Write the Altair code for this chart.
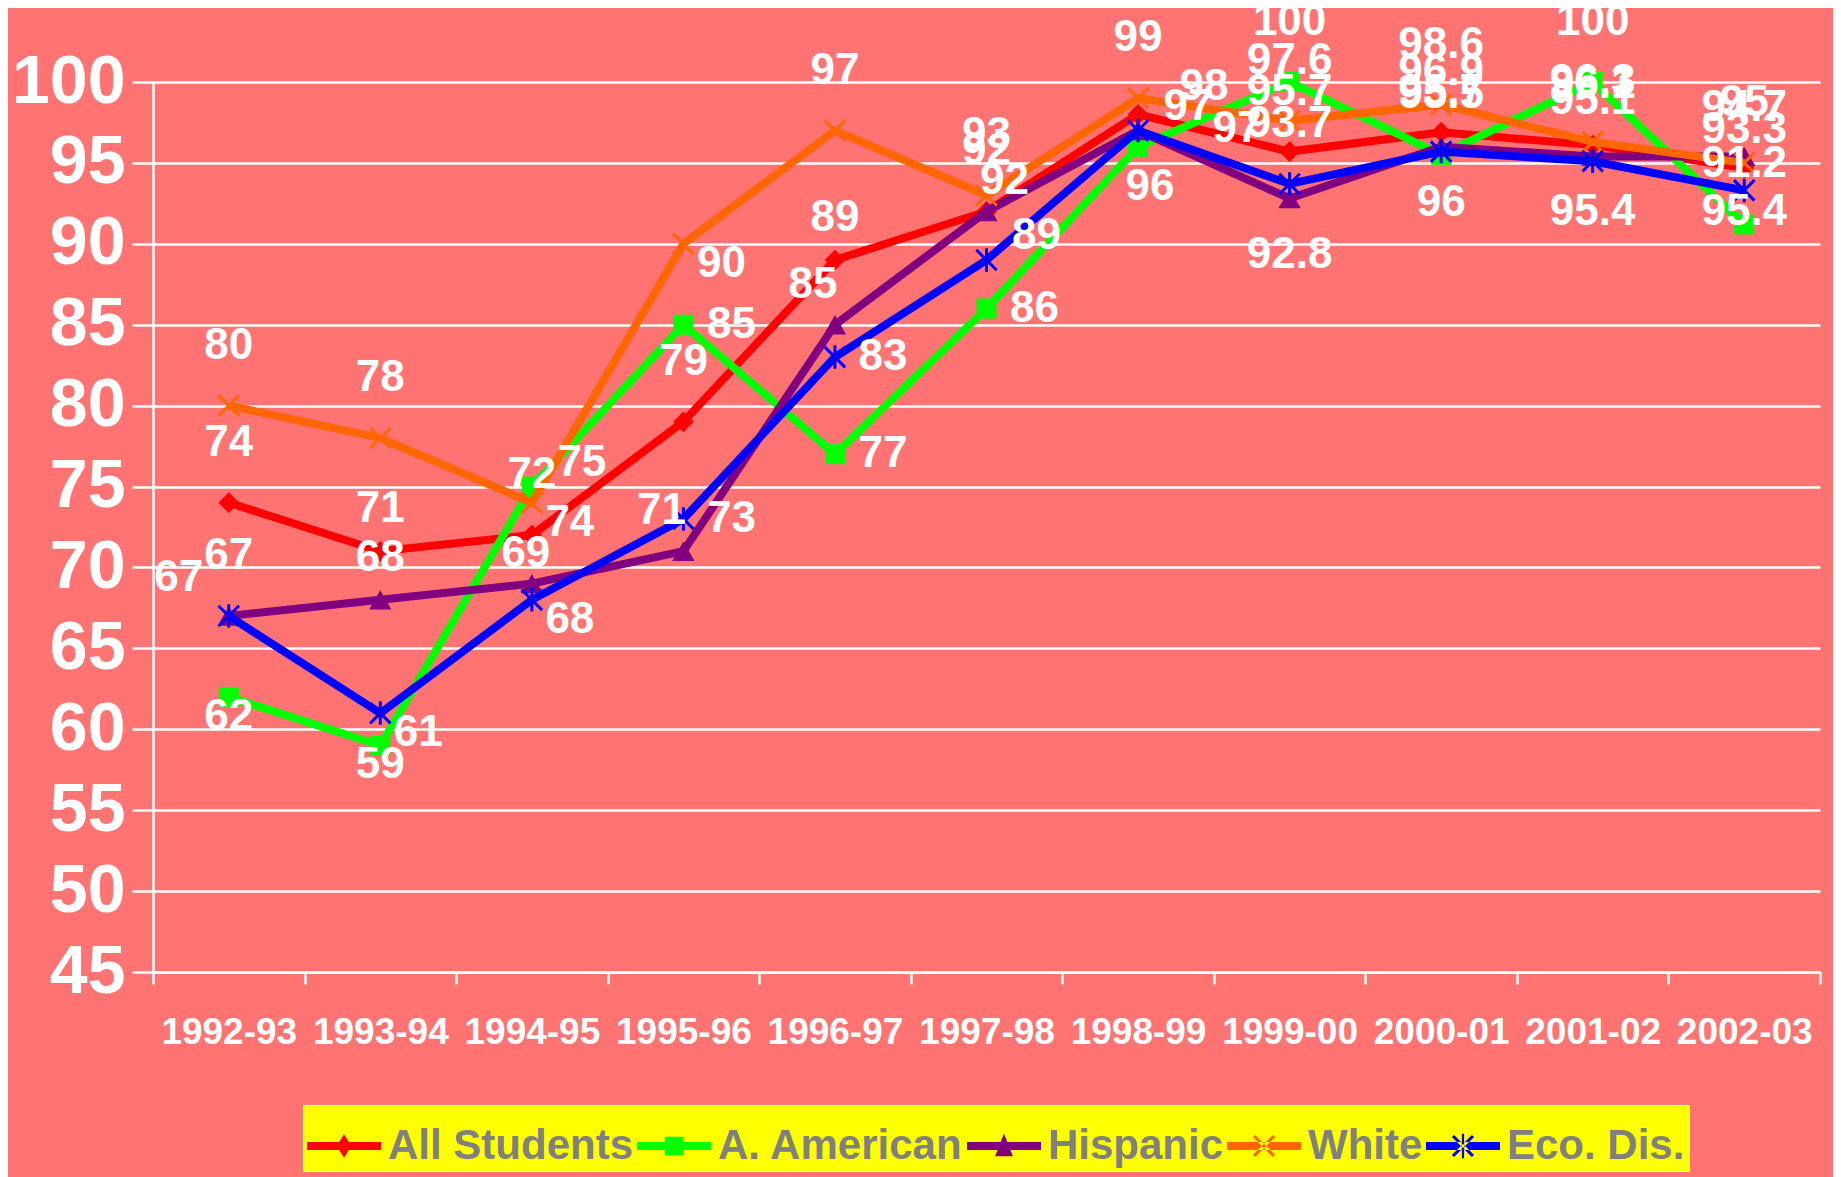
import altair as alt
import pandas as pd

# ---------------- data ----------------
categories = ["1992-93", "1993-94", "1994-95", "1995-96", "1996-97", "1997-98",
              "1998-99", "1999-00", "2000-01", "2001-02", "2002-03"]

series_names = ["All Students", "A. American", "Hispanic", "White", "Eco. Dis."]

all_students = [74, 71, 72, 79, 89, 92, 98, 95.7, 96.9, 96.1, 94.7]
a_american = [62, 59, 75, 85, 77, 86, 96, 100, 95.5, 100, 91.2]
hispanic = [67, 68, 69, 71, 85, 92, 97, 92.8, 96, 95.4, 95.4]
white = [80, 78, 74, 90, 97, 93, 99, 97.6, 98.6, 96.3, 95]
eco_dis = [67, 61, 68, 73, 83, 89, 97, 93.7, 95.7, 95.1, 93.3]

# data-label placement per point (Excel-like label positions)
all_students_lbl = ["a", "am", "a", "a", "am", "a", "ar2", "a", "a", "a", "a"]
a_american_lbl = ["b", "b", "ar", "r", "r", "r", "bm", "a", "a", "a", "a"]
hispanic_lbl = ["a", "am", "an", "al", "al", "au", "ar", "bb", "bb", "bb", "bb"]
white_lbl = ["a", "a", "br", "br", "a", "a", "a", "a", "a", "a", "a"]
eco_dis_lbl = ["l", "br", "br", "r", "r", "ar", "rr", "a", "a", "a", "a"]

series_values = [all_students, a_american, hispanic, white, eco_dis]
series_labels = [all_students_lbl, a_american_lbl, hispanic_lbl, white_lbl, eco_dis_lbl]

# ---------------- styles ----------------
colors = ["#FF0000", "#00FF00", "#800080", "#FF6600", "#0000FF"]
BG = "#FF7373"
FONT = "Liberation Sans"

X_PATH = "M-1,-1L1,1M-1,1L1,-1"
AST_PATH = "M-1,-1L1,1M-1,1L1,-1M0,-1.15L0,1.15"
marker_specs = [
    dict(shape="diamond", filled=True, size=430),
    dict(shape="square", filled=True, size=400),
    dict(shape="triangle-up", filled=True, size=500),
    dict(shape=X_PATH, filled=False, size=420, strokeWidth=3),
    dict(shape=AST_PATH, filled=False, size=420, strokeWidth=3),
]

BAR = "M-1,-0.11L1,-0.11L1,0.11L-1,0.11Z"
legend_paths = [
    BAR + "M0,-0.32L0.2,0L0,0.32L-0.2,0Z",
    BAR + "M-0.25,-0.25L0.25,-0.25L0.25,0.25L-0.25,0.25Z",
    BAR + "M0,-0.34L0.24,0.28L-0.24,0.28Z",
    BAR + "M-0.3,-0.24L0.24,0.3L0.3,0.24L-0.24,-0.3Z"
          "M-0.3,0.24L-0.24,0.3L0.3,-0.24L0.24,-0.3Z",
    BAR + "M-0.3,-0.24L0.24,0.3L0.3,0.24L-0.24,-0.3Z"
          "M-0.3,0.24L-0.24,0.3L0.3,-0.24L0.24,-0.3Z"
          "M-0.03,-0.33L0.03,-0.33L0.03,0.33L-0.03,0.33Z",
]

placements = {
    "a": (0, -60), "am": (0, -42), "an": (-6, -30), "au": (18, -30),
    "al": (-22, -40), "l": (-50, -38), "ar": (50, -24), "ar2": (66, -27),
    "r": (48, 0), "rr": (99, -2), "br": (38, 20), "b": (0, 20),
    "bm": (12, 40), "bb": (0, 56),
}

# ---------------- table ----------------
rows = []
for name, vals, lbls in zip(series_names, series_values, series_labels):
    for cat, v, p in zip(categories, vals, lbls):
        rows.append({"series": name, "year": cat, "value": v,
                     "label": f"{v:g}", "pos": p})
df = pd.DataFrame(rows)

W, H = 1667, 890

x_enc = alt.X(
    "year:N", sort=categories, bandPosition=0.5,
    scale=alt.Scale(type="band", paddingInner=0, paddingOuter=0),
    axis=alt.Axis(title=None, labelAngle=0, tickBand="extent", grid=False,
                  labelFont=FONT, labelFontSize=37, labelFontWeight="bold",
                  labelColor="white", labelPadding=30, tickSize=12,
                  tickColor="white", tickWidth=2.5, domainColor="white",
                  domainWidth=2.5),
)
y_enc = alt.Y(
    "value:Q",
    scale=alt.Scale(domain=[45, 100], nice=False, zero=False),
    axis=alt.Axis(title=None, values=list(range(45, 101, 5)), grid=True,
                  gridColor="white", gridWidth=2.5, labelFont=FONT,
                  labelFontSize=68, labelFontWeight="bold", labelColor="white",
                  labelPadding=7, tickSize=21, tickColor="white", tickWidth=2.5,
                  domainColor="white", domainWidth=2.5),
)

base = alt.Chart(df)
layers = []
for name, c, ms in zip(series_names, colors, marker_specs):
    sub = base.transform_filter(alt.datum.series == name)
    layers.append(sub.mark_line(color=c, strokeWidth=8).encode(x=x_enc, y=y_enc))
    layers.append(sub.mark_point(color=c, opacity=1, **ms).encode(x=x_enc, y=y_enc))

for code, (dx, dy) in placements.items():
    layers.append(
        base.transform_filter(alt.datum.pos == code)
        .mark_text(dx=dx, dy=dy, align="center", baseline="middle", font=FONT,
                   fontSize=44, fontWeight="bold", color="white")
        .encode(x=x_enc, y=y_enc, text="label:N")
    )

leg = alt.Legend(
    title=None, orient="none", legendX=150, legendY=1023, direction="horizontal",
    columns=5, fillColor="#FFFF00", strokeColor="white", padding=4,
    labelFont=FONT, labelFontSize=42, labelFontWeight="bold", labelColor="#808080",
    labelLimit=500, labelOffset=7, columnPadding=3, symbolSize=5476,
    symbolStrokeWidth=0, symbolOpacity=1,
)
legend_layer = base.transform_filter("datum.value < 0").mark_point(
    filled=True, opacity=1
).encode(
    x=x_enc, y=y_enc,
    color=alt.Color("series:N", scale=alt.Scale(domain=series_names, range=colors), legend=leg),
    shape=alt.Shape("series:N", scale=alt.Scale(domain=series_names, range=legend_paths), legend=leg),
)
layers.append(legend_layer)

chart = alt.layer(*layers).properties(
    width=W, height=H, background=BG,
    autosize=alt.AutoSizeParams(type="none"),
    padding={"left": 145, "top": 74, "right": 13, "bottom": 205},
).configure_view(stroke=None)

chart.save("out.html", embed_options={"renderer": "svg", "actions": False})
